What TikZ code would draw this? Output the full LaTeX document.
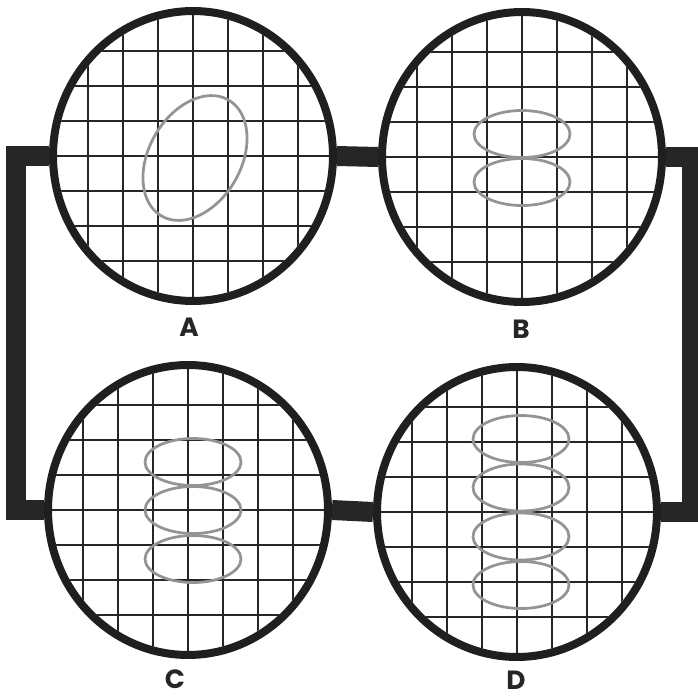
\documentclass[tikz,border=0pt]{standalone}
\usepackage{fontspec}
\setsansfont{Poppins}
\usetikzlibrary{calc,shapes.geometric}

\begin{document}
\begin{tikzpicture}[x=0.02cm, y=-0.02cm,
  scopeface/.style={ellipse, draw=black!88, line width=1.6mm, minimum width=56mm, minimum height=58mm, inner sep=0pt},
  gridline/.style={black!85, line width=0.3mm},
  trace/.style={black!42, line width=0.55mm},
  bar/.style={black!85, line width=4mm, line join=miter, line cap=butt},
  tag/.style={font=\sffamily\bfseries\fontsize{15}{15}\selectfont, text=black!85, inner sep=0pt}]
\useasboundingbox (0,0) rectangle (698,697);
% scope faces
\foreach \name/\x/\y in {A/193/156, B/522/157, C/188/510, D/517/512}
  \node[scopeface] (\name) at (\x,\y) {};
% graticules
\foreach \name in {A,B,C,D}{
  \begin{scope}[shift={(\name.center)}]
    \clip (0,0) ellipse [x radius=136, y radius=141];
    \foreach \k in {-105,-70,...,105}{
      \draw[gridline] (\k,-150) -- (\k,150);
      \draw[gridline] (-150,\k) -- (150,\k);
    }
  \end{scope}
}
% traces
\draw[trace, shift={($(A.center)+(2,2)$)}, rotate=60] (0,0) ellipse [x radius=67, y radius=46];
\foreach \dy in {-23,25}
  \draw[trace] ($(B.center)+(0,\dy)$) ellipse [x radius=48, y radius=23.5];
\foreach \dy in {-48,0,49}
  \draw[trace] ($(C.center)+(5,\dy)$) ellipse [x radius=48, y radius=23.5];
\foreach \dy in {-73,-24.5,24.5,73}
  \draw[trace] ($(D.center)+(4,\dy)$) ellipse [x radius=48, y radius=23.5];
% links
\draw[bar] (A.east) -- (B.west);
\draw[bar] (C.east) -- (D.west);
\draw[bar] (A.west) -- ++(-33,0) |- (C.west);
\draw[bar] (B.east) -- ++(26,0) |- (D.east);
% labels
\node[tag] (labA) at (189,327) {A};
\node[tag] (labB) at (521,329) {B};
\node[tag] (labC) at (175,679) {C};
\node[tag] (labD) at (516,680) {D};
\end{tikzpicture}
\end{document}
